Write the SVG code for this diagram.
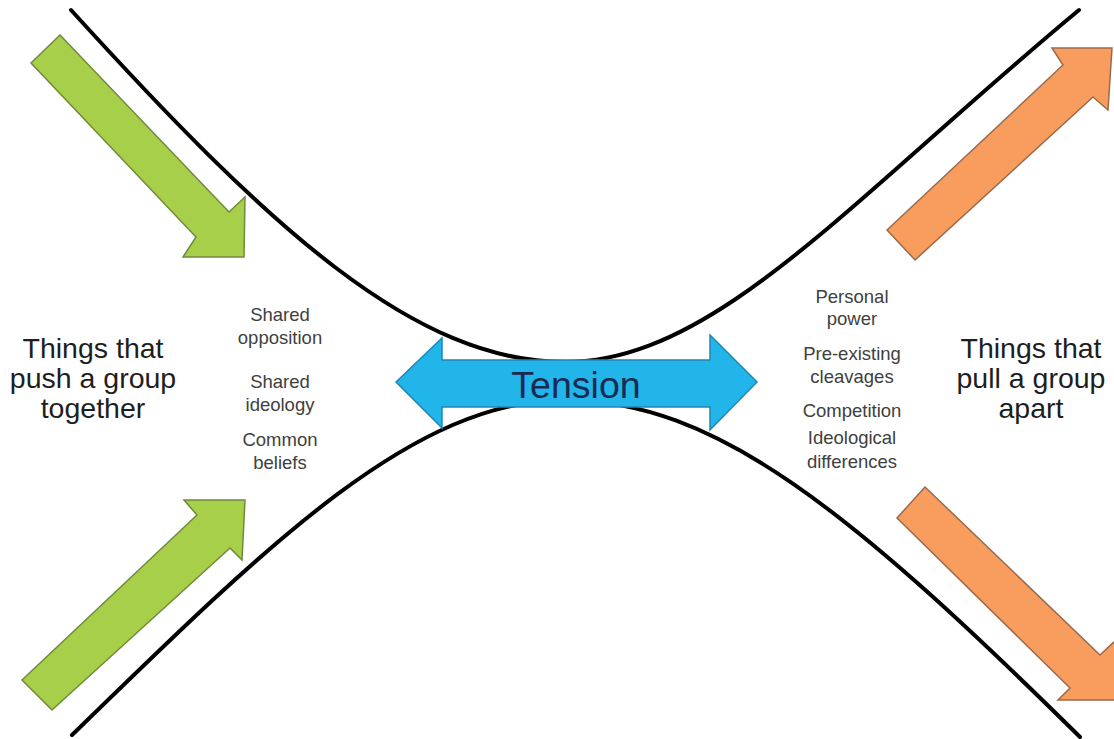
<svg xmlns="http://www.w3.org/2000/svg" width="1114" height="739" viewBox="0 0 1114 739">
<style>
.curve{fill:none;stroke:#000;stroke-width:4;stroke-linecap:round}
.green{fill:#a8cf4a;stroke:#6e8b3c;stroke-width:1.5;stroke-linejoin:miter}
.orange{fill:#f89d5e;stroke:#9a6a4c;stroke-width:1.5}
.blue{fill:#21b5ea;stroke:#1f86b8;stroke-width:1.5}
.big{font-family:"Liberation Sans",Arial,sans-serif;font-size:28.5px;fill:#1e1e1e;text-anchor:middle}
.small{font-family:"Liberation Sans",Arial,sans-serif;font-size:18.5px;fill:#404040;text-anchor:middle}
.tension{font-family:"Liberation Sans",Arial,sans-serif;font-size:37.5px;fill:#1b2a52;text-anchor:middle}
</style>
<rect width="1114" height="739" fill="#ffffff"/>
<g id="connectors">
<path class="curve" d="M71,10 C271,230 415,362 565,362 C715,362 850,200 1079,10"/>
<path class="curve" d="M72,735 C272,540 415,400 565,400 C715,400 850,510 1080,737"/>
</g>
<g id="arrow-green-top">
<polygon class="green" points="60,35 229,212 245,197 244,257 183,257 196,237 31,63"/>
</g>
<g id="arrow-green-bottom">
<polygon class="green" points="22,680 197,515 184,500 245,500 242,560 230,548 52,710"/>
</g>
<g id="arrow-orange-top">
<polygon class="orange" points="887,230 1063,65 1052,48 1112,48 1108,110 1093,97 915,260"/>
</g>
<g id="arrow-orange-bottom">
<polygon class="orange" points="925,487 1100,655 1116,640 1118,700 1058,700 1070,688 897,518"/>
</g>
<g id="tension">
<polygon class="blue" points="396,382 442,338 442,360 710,360 710,335 757,382 710,430 710,407 442,407 442,428"/>
<text class="tension" x="576" y="398">Tension</text>
</g>
<g id="label-together">
<text class="big" x="93" y="358">Things that</text>
<text class="big" x="93" y="388">push a group</text>
<text class="big" x="93" y="418">together</text>
</g>
<g id="label-apart">
<text class="big" x="1031" y="358">Things that</text>
<text class="big" x="1031" y="388">pull a group</text>
<text class="big" x="1031" y="418">apart</text>
</g>
<g id="factors-together">
<text class="small" x="280" y="321">Shared</text>
<text class="small" x="280" y="344">opposition</text>
<text class="small" x="280" y="388">Shared</text>
<text class="small" x="280" y="411">ideology</text>
<text class="small" x="280" y="446">Common</text>
<text class="small" x="280" y="469">beliefs</text>
</g>
<g id="factors-apart">
<text class="small" x="852" y="303">Personal</text>
<text class="small" x="852" y="325">power</text>
<text class="small" x="852" y="360">Pre-existing</text>
<text class="small" x="852" y="383">cleavages</text>
<text class="small" x="852" y="417">Competition</text>
<text class="small" x="852" y="444">Ideological</text>
<text class="small" x="852" y="468">differences</text>
</g>
</svg>
